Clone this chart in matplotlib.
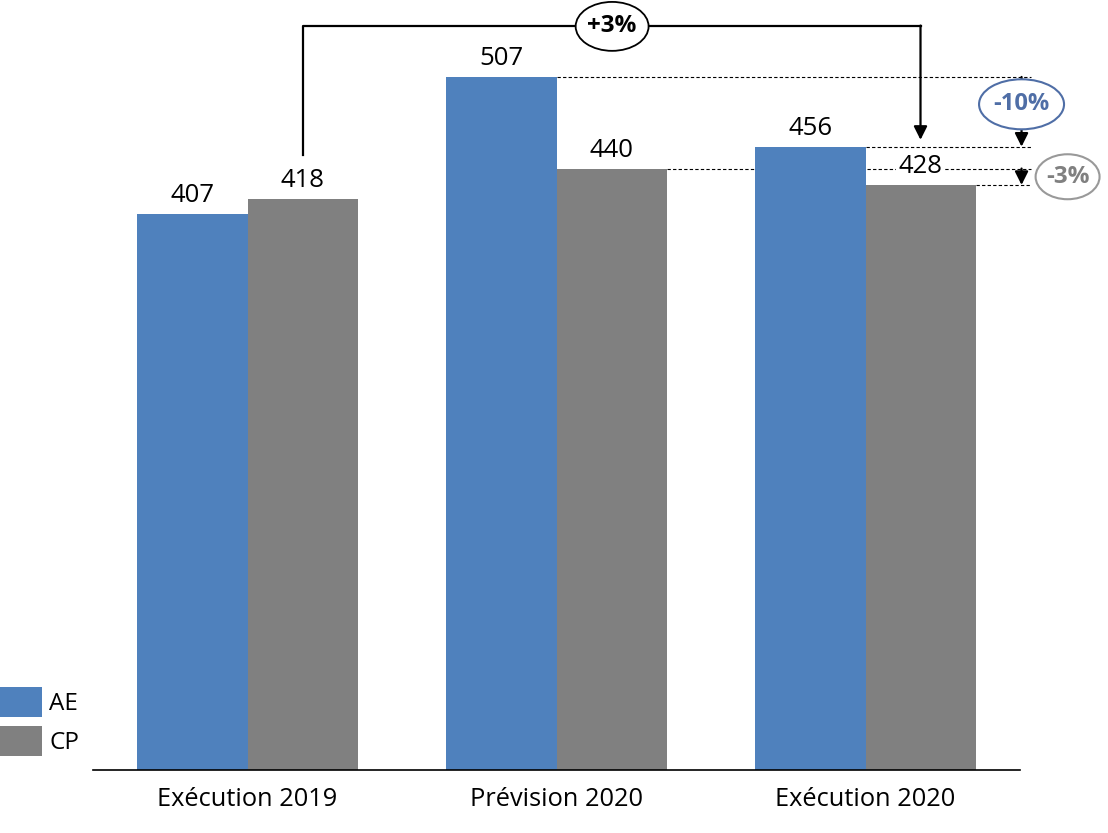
import numpy as np
import matplotlib.pyplot as plt
from matplotlib.patches import Ellipse

categories = ['Exécution 2019', 'Prévision 2020', 'Exécution 2020']
ae_values = [407, 507, 456]
cp_values = [418, 440, 428]
series_names = ['AE', 'CP']
change_total = '+3%'
change_ae = '-10%'
change_cp = '-3%'

blue = '#4F81BD'
grey = '#808080'

plt.rcParams['font.family'] = ['Open Sans', 'DejaVu Sans']

fig = plt.figure(figsize=(11.08, 8.33), dpi=100)
ax = fig.add_axes([93 / 1108, 63 / 833, 927 / 1108, 770 / 833])

x = np.arange(len(categories))
w = 0.356
ax.bar(x - w / 2, ae_values, w, color=blue, label=series_names[0], zorder=2)
ax.bar(x + w / 2, cp_values, w, color=grey, label=series_names[1], zorder=2)

ax.set_xlim(-0.5, 2.5)
ax.set_ylim(0, 563.3)
for s in ['top', 'right', 'left']:
    ax.spines[s].set_visible(False)
ax.spines['bottom'].set_linewidth(1.2)
ax.set_yticks([])
ax.set_xticks(x)
ax.set_xticklabels(categories, fontsize=18.3)
ax.tick_params(axis='x', length=0, pad=12)

# value labels
for xs, vals in [(x - w / 2, ae_values), (x + w / 2, cp_values)]:
    for xi, v in zip(xs, vals):
        ax.annotate(str(v), (xi, v), xytext=(0, 4), textcoords='offset points',
                    ha='center', va='bottom', fontsize=18.5, zorder=5,
                    bbox=dict(boxstyle='square,pad=0.1', fc='white', ec='none'))

# dashed guides to the right
xr = 2.534
dash = dict(color='black', lw=0.8, ls=(0, (3, 2)), zorder=1, clip_on=False)
ax.plot([1, xr], [ae_values[1]] * 2, **dash)
ax.plot([2, xr], [ae_values[2]] * 2, **dash)
ax.plot([1 + w, xr], [cp_values[1]] * 2, **dash)
ax.plot([2 + w, xr], [cp_values[2]] * 2, **dash)

arrow = dict(arrowstyle='-|>', color='black', lw=1.6, mutation_scale=20,
             shrinkA=0, shrinkB=0)

# bracket between CP 2019 and CP 2020
y_top = 544
ax.plot([w / 2, w / 2, 2 + w / 2], [450, y_top, y_top], color='black', lw=1.6,
        clip_on=False, zorder=3)
ax.annotate('', xy=(2 + w / 2, 461), xytext=(2 + w / 2, y_top + 0.6),
            arrowprops=arrow, annotation_clip=False)
ax.add_patch(Ellipse((1.18, y_top), 0.236, 35.8, fc='white', ec='black', lw=1.3,
                     clip_on=False, zorder=4))
ax.text(1.18, y_top, change_total, ha='center', va='center', fontsize=17.5,
        fontweight='bold', zorder=5)

# AE change arrow
xa = 2.505
ax.annotate('', xy=(xa, ae_values[2]), xytext=(xa, ae_values[1]),
            arrowprops=arrow, annotation_clip=False)
ax.add_patch(Ellipse((xa, 487), 0.275, 36.6, fc='white', ec='#4F6EA6', lw=1.5,
                     clip_on=False, zorder=4))
ax.text(xa, 487, change_ae, ha='center', va='center', fontsize=17,
        fontweight='bold', color='#4F6EA6', zorder=5)

# CP change arrow
ax.annotate('', xy=(xa, cp_values[2]), xytext=(xa, cp_values[1]),
            arrowprops=arrow, annotation_clip=False)
ax.add_patch(Ellipse((2.654, 434), 0.207, 32.9, fc='white', ec='#999999', lw=1.5,
                     clip_on=False, zorder=4))
ax.text(2.654, 434, change_cp, ha='center', va='center', fontsize=17.5,
        fontweight='bold', color=grey, zorder=5)

ax.legend(loc='lower left', bbox_to_anchor=(0, 77 / 833), bbox_transform=fig.transFigure,
          frameon=False, fontsize=17.5, handlelength=1.72, handleheight=1.55,
          labelspacing=0.35, handletextpad=0.3, borderpad=0, borderaxespad=0)

fig.savefig('out.png', dpi=100)
